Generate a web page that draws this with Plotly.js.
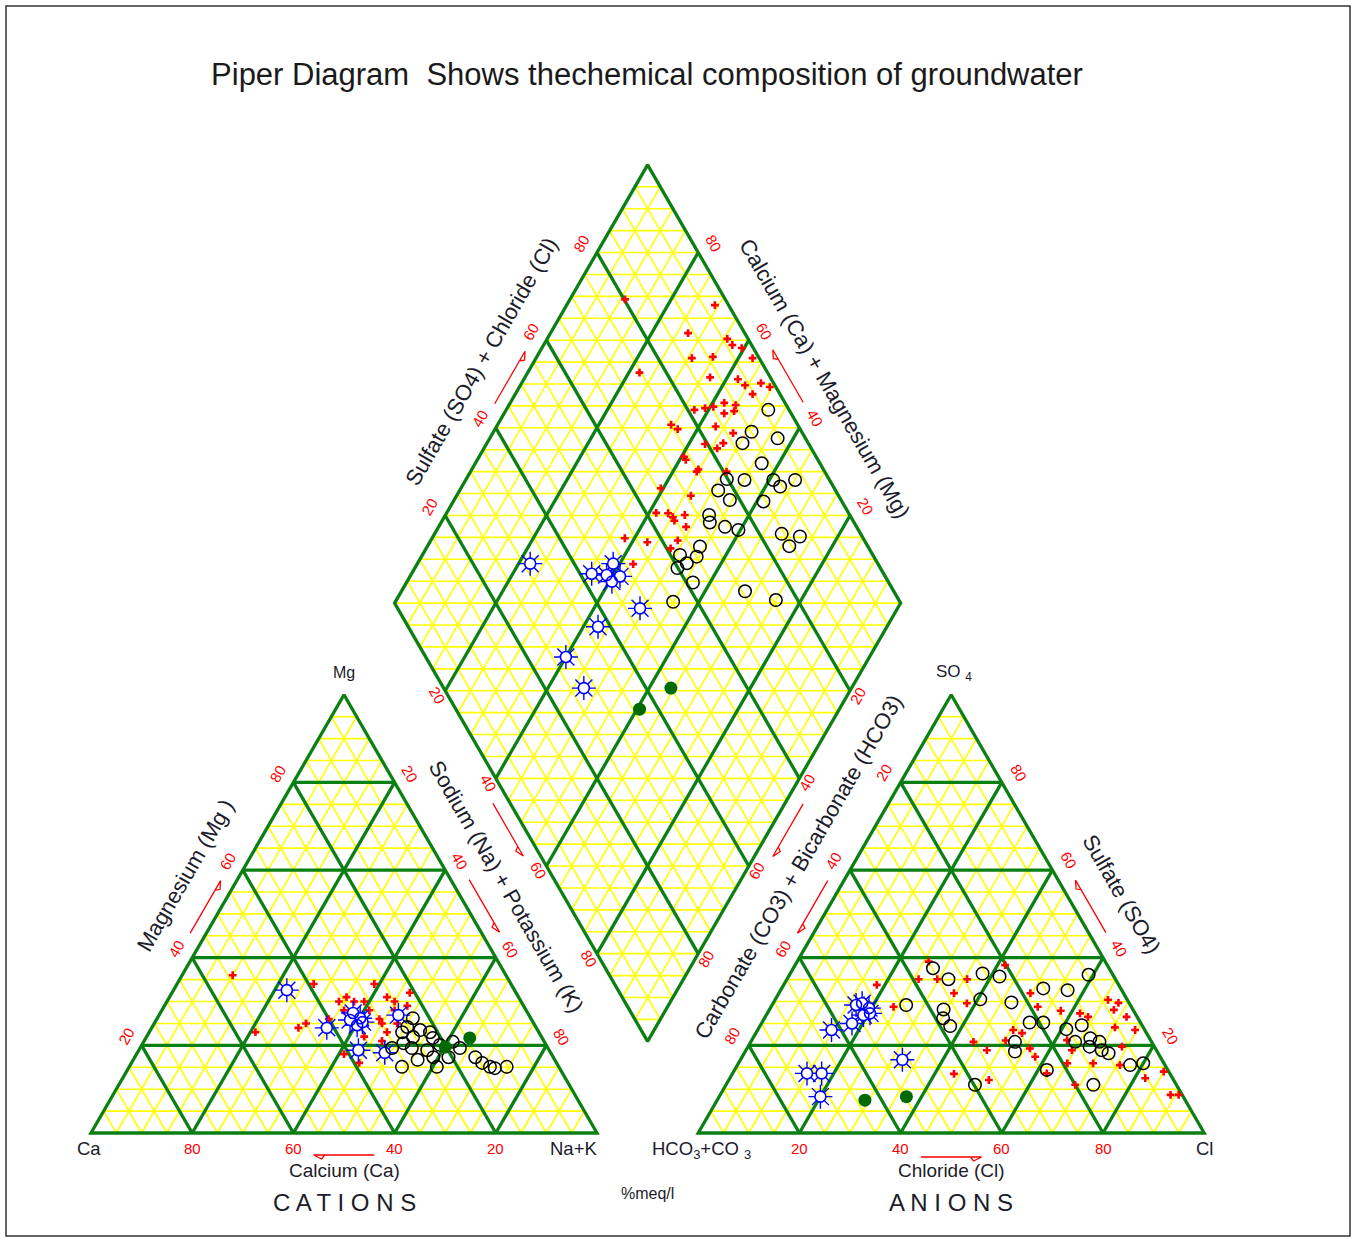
<!DOCTYPE html>
<html><head><meta charset="utf-8">
<script src="https://cdn.plot.ly/plotly-3.0.1.min.js"></script>
<style>html,body{margin:0;padding:0;background:#fff}</style>
</head><body><div id="chart" style="width:1356px;height:1240px"></div>
<script>
// ---------------- DATA ----------------
// Cation triangle: Ca % and Mg % (Na+K = 100 - Ca - Mg)
const catRedCa   = [54,39,36,34,33,31,27,26,25,21,23,31,30,30,30,47,45,56,35,32,41,39,26,27,36,40];
const catRedMg   = [36,34,30,31,30,30,34,31,30,32,29,28,26,25,23,24,25,23,22,21,18,16,28,25,28,26];
const catBlackCa = [23.3,25.4,23.2,21.5,27.0,25.4,21.6,28.0,26.9,24.1,21.0,18.1,17.4,20.7,15.4,14.7,13.6,12.8,10.3,31.0,27.1,24.1,30.8,23.7];
const catBlackMg = [26.2,24.2,23.5,23.0,23.0,21.9,21.7,20.5,19.4,18.9,20.1,20.8,19.4,17.3,17.3,16.0,15.1,14.8,15.1,15.1,16.7,15.1,19.4,17.3];
const catBlueCa  = [45.0,41.4,34.5,33.7,35.1,37.7,32.8,25.8,35.9,33.7];
const catBlueMg  = [32.6,24.0,27.4,26.2,24.6,18.9,18.3,26.9,25.8,25.3];
const catGreenCa = [20.2,14.3];
const catGreenMg = [19.6,21.7];

// Anion triangle: Cl % and SO4 % (HCO3+CO3 = 100 - Cl - SO4)
const anRedCl   = [18.4,26.0,29.7,35.6,41.5,26.0,24.2,34.6,38.3,49.7,52.7,57.7,65.8,68.2,68.1,71.4,70.3,74.6,61.8,63.8,50.5,52.6,50.2,44.0,47.6,55.9,57.9,62.3,64.4,65.0,70.1,73.9,75.6,85.0,82.1,62.1,69.0,43.8,51.4,89.0,90.6];
const anRedSO4  = [33.8,35.1,35.1,35.1,38.3,39.1,28.8,31.9,29.6,31.9,28.8,27.9,30.4,29.7,28.1,26.5,24.1,23.5,27.3,26.5,23.5,22.8,21.1,20.8,18.9,19.3,17.4,21.2,18.9,15.9,15.9,19.7,15.5,14.0,12.5,13.6,11.0,13.5,12.1,8.7,8.7];
const anBlackCl  = [27.6,31.9,38.0,41.7,59.1,51.7,56.7,40.5,47.0,26.5,34.4,35.3,37.6,52.9,55.6,60.9,63.5,52.2,53.3,64.1,66.7,68.9,67.5,70.3,72.0,77.6,80.0,61.7,49.2,72.6];
const anBlackSO4 = [37.6,35.1,36.4,35.7,36.1,33.0,32.6,30.5,29.8,29.2,28.2,26.2,24.4,25.2,25.2,23.7,24.6,20.8,18.6,20.8,21.6,20.8,19.7,18.9,18.2,15.5,15.9,14.4,11.0,11.0];
const anBlueCl   = [17.6,16.6,19.5,20.3,17.9,14.6,19.2,32.0,14.7,17.6,20.0];
const anBlueSO4  = [29.6,29.2,28.5,27.3,25.0,23.5,26.9,16.7,13.6,13.6,8.3];
const anGreenCl  = [29.2,37.0];
const anGreenSO4 = [7.5,8.3];

// Diamond: Ca+Mg % and SO4+Cl %
const diRedCaMg  = [89.1,70.7,72.8,64.4,62.7,60.5,69.2,65.2,57.2,77.9,63.4,57.7,55.6,52.7,50.5,53.1,57.7,55.2,62.8,60.9,59.4,56.5,54.8,65.7,63.9,56.7,52.5,56.8,53.9,53.3,59.5,58.8,55.2,55.3,49.4,60.5,53.7,58.6,56.2,54.8,54.1,52.7,51.1,61.9,57.0,51.2,51.7,57.3];
const diRedSO4Cl = [80.2,97.3,88.8,95.9,96.2,97.7,86.7,91.0,98.7,74.7,88.1,93.4,94.1,97.5,98.8,94.6,88.0,90.0,81.3,83.6,85.4,86.8,89.0,75.0,75.8,83.6,86.3,79.5,81.4,83.2,73.9,73.9,75.3,74.7,80.6,65.7,70.8,62.0,64.3,64.8,64.7,67.4,66.3,52.9,56.9,63.1,60.8,51.6];
const diBlackCaMg  = [48.2,49.0,49.5,43.1,43.4,48.5,44.9,39.2,37.1,34.9,48.9,45.5,38.7,47.9,46.9,43.4,40.4,31.4,27.5,28.5,49.1,46.1,45.6,46.8,48.1,43.4,45.1,32.1,25.0];
const diBlackSO4Cl = [95.9,90.1,87.0,94.5,88.5,79.8,83.2,88.9,89.5,93.2,76.8,78.0,84.5,72.2,71.5,74.0,76.3,84.4,87.7,84.5,61.9,66.8,65.0,62.3,59.9,61.3,55.2,70.6,75.7];
const diBlueCaMg  = [77.7,64.4,61.3,61.3,58.5,59.5,50.9,57.1,60.0,52.9];
const diBlueSO4Cl = [31.3,42.3,47.7,45.1,47.6,45.4,47.9,37.5,27.7,27.7];
const diGreenCaMg  = [35.7,39.5];
const diGreenSO4Cl = [44.9,36.3];

const tickVals = [20,40,60,80];

// ---------------- GEOMETRY ----------------
const H = Math.sqrt(3)/2;
const PX = 5.06;                       // pixels per percent unit
const AX0 = 120;                       // anion triangle x offset
const DY0 = 10*Math.sqrt(3) + 0.8;     // diamond bottom vertex height
function tri(ox, r, u){ return [ox + r + u/2, u*H]; }
function dia(c, s){ return [110 + (s-c)/2, DY0 + (c+s)*H]; }
function off(p, n, dpx){ return [p[0] + n[0]*dpx/PX, p[1] + n[1]*dpx/PX]; }

// grid
const yel = {x:[],y:[]}, grn = {x:[],y:[]};
function seg(o,p,q){ o.x.push(p[0],q[0],null); o.y.push(p[1],q[1],null); }
function poly(o,pts){ pts.forEach(p=>{o.x.push(p[0]);o.y.push(p[1]);}); o.x.push(null); o.y.push(null); }
for (const ox of [0, AX0]) {
  for (let p=5; p<100; p+=5) {
    const o = (p%20===0) ? grn : yel;
    seg(o, tri(ox,0,p), tri(ox,100-p,p));
    seg(o, tri(ox,p,0), tri(ox,p,100-p));
    seg(o, tri(ox,100-p,0), tri(ox,0,100-p));
  }
  poly(grn, [tri(ox,0,0), tri(ox,100,0), tri(ox,0,100), tri(ox,0,0), tri(ox,100,0)]);
}
for (let p=5; p<100; p+=5) {
  const o = (p%20===0) ? grn : yel;
  seg(o, dia(p,0), dia(p,100));
  seg(o, dia(0,p), dia(100,p));
}
for (let k=5; k<200; k+=5) {
  const cmin = Math.max(0,k-100), cmax = Math.min(100,k);
  seg(yel, dia(cmin,k-cmin), dia(cmax,k-cmax));
}
poly(grn, [dia(0,0), dia(100,0), dia(100,100), dia(0,100), dia(0,0), dia(100,0)]);

const traces = [
  {x:yel.x, y:yel.y, mode:'lines', line:{color:'#ffff00', width:1.6}, hoverinfo:'skip'},
  {x:grn.x, y:grn.y, mode:'lines', line:{color:'#0b7f12', width:3.3}, hoverinfo:'skip'}
];

function catPts(ca, mg){ const x=[],y=[]; ca.forEach((c,i)=>{const p=tri(0,100-c-mg[i],mg[i]); x.push(p[0]); y.push(p[1]);}); return {x,y}; }
function anPts(cl, so){ const x=[],y=[]; cl.forEach((c,i)=>{const p=tri(AX0,c,so[i]); x.push(p[0]); y.push(p[1]);}); return {x,y}; }
function diPts(cm, sc){ const x=[],y=[]; cm.forEach((c,i)=>{const p=dia(c,sc[i]); x.push(p[0]); y.push(p[1]);}); return {x,y}; }

const groups = [
  {name:'red',   sets:[catPts(catRedCa,catRedMg), anPts(anRedCl,anRedSO4), diPts(diRedCaMg,diRedSO4Cl)]},
  {name:'blue',  sets:[catPts(catBlueCa,catBlueMg), anPts(anBlueCl,anBlueSO4), diPts(diBlueCaMg,diBlueSO4Cl)]},
  {name:'black', sets:[catPts(catBlackCa,catBlackMg), anPts(anBlackCl,anBlackSO4), diPts(diBlackCaMg,diBlackSO4Cl)]},
  {name:'green', sets:[catPts(catGreenCa,catGreenMg), anPts(anGreenCl,anGreenSO4), diPts(diGreenCaMg,diGreenSO4Cl)]}
];
function merge(sets){ const x=[],y=[]; sets.forEach(s=>{x.push(...s.x); y.push(...s.y);}); return {x,y}; }
groups.forEach(g=>{
  const m = merge(g.sets);
  if (g.name==='red') {
    traces.push({x:m.x,y:m.y,mode:'markers',marker:{symbol:'cross',size:6.5,color:'#ff0000',line:{width:0}},hoverinfo:'skip'});
  } else if (g.name==='blue') {
    traces.push({x:m.x,y:m.y,mode:'markers',marker:{symbol:'asterisk-open',size:20,color:'#0000ff',line:{width:1.4,color:'#0000ff'}},hoverinfo:'skip'});
    traces.push({x:m.x,y:m.y,mode:'markers',marker:{symbol:'circle',size:11,color:'#ffffff',line:{width:0}},hoverinfo:'skip'});
    traces.push({x:m.x,y:m.y,mode:'markers',marker:{symbol:'circle-open',size:11,color:'#0000ff',line:{width:1.6,color:'#0000ff'}},hoverinfo:'skip'});
  } else if (g.name==='black') {
    traces.push({x:m.x,y:m.y,mode:'markers',marker:{symbol:'circle-open',size:12.5,color:'#000000',line:{width:1.5,color:'#000000'}},hoverinfo:'skip'});
  } else {
    traces.push({x:m.x,y:m.y,mode:'markers',marker:{symbol:'circle',size:13,color:'#006a00',line:{width:0}},hoverinfo:'skip'});
  }
});

// ---------------- LABELS ----------------
const FONT = 'Liberation Sans, Arial, sans-serif';
const RED = '#ff0000', DARK = '#1c1c2a';
const annotations = [];
function ann(p, text, size, color, angle, extra){
  annotations.push(Object.assign({x:p[0], y:p[1], xref:'x', yref:'y', text:text, showarrow:false,
    textangle:angle||0, xanchor:'center', yanchor:'middle', font:{family:FONT, size:size, color:color}}, extra||{}));
}
const edges = [
  {pt:v=>tri(0,0,v),        n:[-H,0.5],  ang:-60, lo:18, ao:14, title:'Magnesium (Mg )', tv:53.4, to:47},
  {pt:v=>tri(0,v,100-v),    n:[H,0.5],   ang:60,  lo:17, ao:16, title:'Sodium (Na) + Potassium (K)', tv:49, to:45},
  {pt:v=>tri(AX0,0,100-v),  n:[-H,0.5],  ang:-60, lo:19, ao:14, title:'Carbonate (CO3) + Bicarbonate (HCO3)', tv:44.5, to:46},
  {pt:v=>tri(AX0,100-v,v),  n:[H,0.5],   ang:60,  lo:19, ao:15, title:'Sulfate (SO4)', tv:49, to:48},
  {pt:v=>dia(100,v),        n:[-H,0.5],  ang:-60, lo:18, ao:13, title:'Sulfate (SO4) + Chloride (Cl)', tv:50, to:46},
  {pt:v=>dia(v,100),        n:[H,0.5],   ang:60,  lo:18, ao:16, title:'Calcium (Ca) + Magnesium (Mg)', tv:46, to:47},
  {pt:v=>dia(100-v,0),      n:[-H,-0.5], ang:60,  lo:9,  ao:15},
  {pt:v=>dia(0,100-v),      n:[H,-0.5],  ang:-60, lo:9,  ao:16},
  {pt:v=>tri(0,100-v,0),    n:[0,-1],    ang:0,   lo:15, ao:22, title:'Calcium (Ca)', tv:50, to:37, tang:0},
  {pt:v=>tri(AX0,v,0),      n:[0,-1],    ang:0,   lo:15, ao:24, title:'Chloride (Cl)', tv:50, to:37, tang:0}
];
const shapes = [];
edges.forEach(e=>{
  tickVals.forEach(v=>ann(off(e.pt(v), e.n, e.lo), String(v), 15, RED, e.ang));
  if (e.title) ann(off(e.pt(e.tv), e.n, e.to), e.title, e.ang===0?19:22, DARK, e.tang===0?0:e.ang);
  // arrow pointing toward increasing values
  const a = off(e.pt(44), e.n, e.ao), b = off(e.pt(56), e.n, e.ao);
  const dx = b[0]-a[0], dy = b[1]-a[1], L = Math.hypot(dx,dy), ux = dx/L, uy = dy/L;
  let px = -uy, py = ux; if (py > 0 || (py===0 && px>0)) { px = uy; py = -ux; }
  if (Math.abs(py) < 1e-9) { px = 0; py = -1; }
  const barb = [b[0] - ux*8/PX + px*4/PX, b[1] - uy*8/PX + py*4/PX];
  const back = [b[0] - ux*11/PX, b[1] - uy*11/PX];
  shapes.push({type:'path', xref:'x', yref:'y', path:`M ${a[0]},${a[1]} L ${b[0]},${b[1]} L ${barb[0]},${barb[1]} L ${back[0]},${back[1]}`,
    line:{color:RED, width:1.3}});
});
// vertex labels
ann(off(tri(0,0,0),[0,-1],15), 'Ca', 18.5, DARK, 0, {xshift:-2});
ann(off(tri(0,100,0),[0,-1],15), 'Na+K', 18.5, DARK, 0, {xanchor:'right', xshift:2});
ann(off(tri(0,0,100),[0,1],22), 'Mg', 16, DARK, 0);
ann(off(tri(AX0,0,0),[0,-1],17), 'HCO<sub>3</sub>+CO <sub>3</sub>', 18.5, DARK, 0, {xanchor:'left', xshift:-48});
ann(off(tri(AX0,100,0),[0,-1],15), 'Cl', 18.5, DARK, 0);
ann(off(tri(AX0,0,100),[0,1],22), 'SO <sub>4</sub>', 17, DARK, 0, {xshift:3});
ann(off(tri(0,50,0),[0,-1],69), 'C A T I O N S', 24, DARK, 0);
ann(off(tri(AX0,50,0),[0,-1],69), 'A N I O N S', 24, DARK, 0);
ann(off(dia(0,0),[0,-1],152), '%meq/l', 16, DARK, 0);

shapes.push({type:'rect', xref:'paper', yref:'paper', x0:6/1356, x1:1350/1356, y0:1-1236/1240, y1:1-6/1240, line:{color:'#333', width:1.5}});

const layout = {
  width:1356, height:1240, autosize:false,
  margin:{l:0,r:0,t:0,b:0,pad:0},
  paper_bgcolor:'#ffffff', plot_bgcolor:'#ffffff',
  showlegend:false,
  title:{text:'Piper Diagram\u00a0 Shows thechemical composition of groundwater', x:647/1356, xanchor:'center', y:1-74/1240, yanchor:'middle',
         font:{family:FONT, size:31, color:'#1a1a1a'}},
  xaxis:{range:[-91/PX, (1356-91)/PX], visible:false, fixedrange:true},
  yaxis:{range:[(1133-1240)/PX, 1133/PX], visible:false, fixedrange:true},
  annotations:annotations, shapes:shapes
};
Plotly.newPlot('chart', traces, layout, {staticPlot:true, displayModeBar:false});
</script></body></html>
